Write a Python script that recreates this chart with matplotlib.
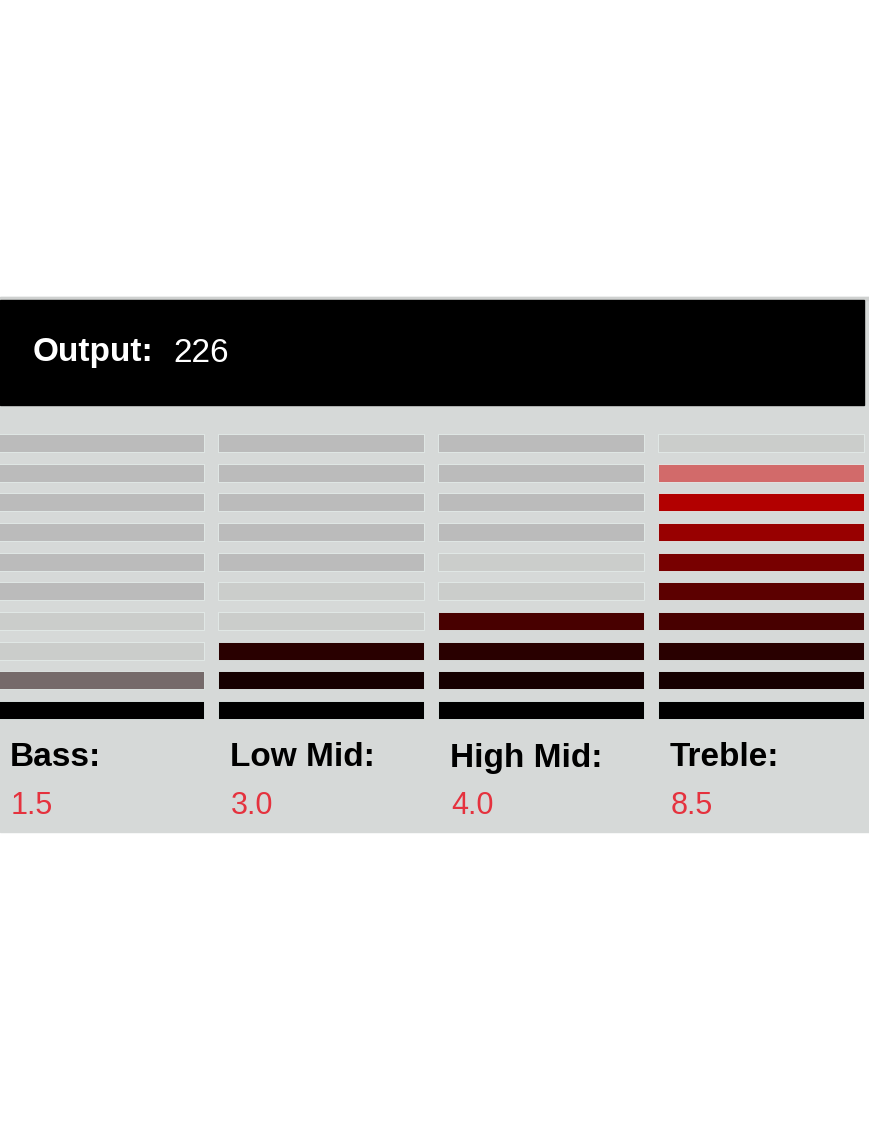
import matplotlib.pyplot as plt
from matplotlib.patches import Rectangle
import numpy as np

# Données de l'égaliseur
bands = ['Bass', 'Low Mid', 'High Mid', 'Treble']
levels = [1.5, 3.0, 4.0, 8.5]
output_value = 226
n_steps = 10

# Couleurs des segments allumés, du bas vers le haut
lit_colors = ['#000000', '#150000', '#290000', '#480000', '#5c0000',
              '#780000', '#980000', '#b20000', '#d00000', '#e00000']
off_color = '#bbbbbb'
fade_color = '#cbcdcb'
panel_color = '#d6d9d8'
value_color = '#e5323e'


def blend(c1, c2, t):
    a = np.array(plt.matplotlib.colors.to_rgb(c1))
    b = np.array(plt.matplotlib.colors.to_rgb(c2))
    return tuple(a * t + b * (1 - t))


def segment_color(step, value):
    # step commence à 1
    if step <= value:
        return lit_colors[step - 1]
    if step - 0.5 <= value:
        return blend(lit_colors[step - 1], '#d4d4d4', 0.5)
    top = int(np.ceil(value))
    if step <= top + 2:
        return fade_color
    return off_color


W, H = 870, 1131
fig = plt.figure(figsize=(W / 100, H / 100), dpi=100)
fig.patch.set_facecolor('white')

# Fond du panneau (coordonnées en pixels)
bg = fig.add_axes([0, 0, 1, 1])
bg.set_xlim(0, W)
bg.set_ylim(H, 0)
bg.axis('off')
bg.add_patch(Rectangle((0, 297), W, 535, color=panel_color, zorder=0))
bg.add_patch(Rectangle((0, 297), W, 3, color='#cfd1d0', zorder=1))
bg.add_patch(Rectangle((0, 300), 864.5, 105, color='black', zorder=1))

bg.text(33, 361.5, 'Output:', color='white', fontsize=24, fontweight='bold',
        family='Liberation Sans', va='baseline')
bg.text(173, 361.5, str(output_value), color='white', fontsize=24,
        family='Liberation Sans', va='baseline')

# Zone des barres
top_px, bottom_px = 428.2, 724.8
ax = fig.add_axes([0, 1 - bottom_px / H, 1, (bottom_px - top_px) / H])
pitch = 219.95
ax.set_xlim(-101 / pitch, (W - 101) / pitch)
ax.set_ylim(0.5, n_steps + 0.5)
ax.axis('off')
ax.patch.set_alpha(0)

steps = np.arange(1, n_steps + 1)
bar_h = 18 / 29.67
for i, (band, val) in enumerate(zip(bands, levels)):
    colors = [segment_color(s, val) for s in steps]
    ax.bar(np.full(n_steps, i), [bar_h] * n_steps, width=0.938,
           bottom=steps - bar_h / 2, color=colors,
           edgecolor='#e4ecea', linewidth=0.6)

    x_px = 10 + i * 220
    bg.text(x_px, 766.5, band + ':', color='black', fontsize=24,
            fontweight='bold', family='Liberation Sans', va='baseline')
    bg.text(x_px + 1, 813.5, f'{val:.1f}', color=value_color, fontsize=22,
            family='Liberation Sans', va='baseline')

plt.savefig('out.png', dpi=100)
